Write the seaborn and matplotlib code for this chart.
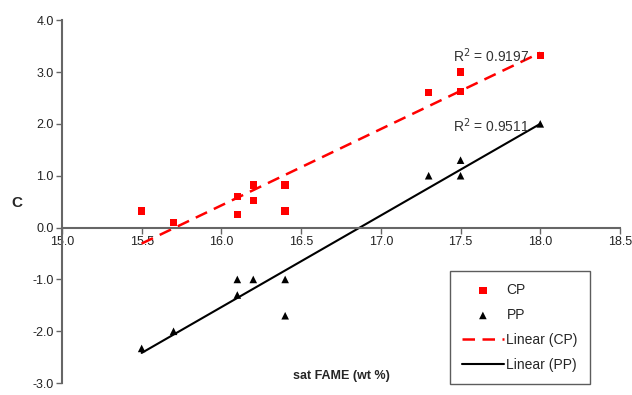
import matplotlib
matplotlib.use("Agg")
import matplotlib.pyplot as plt
import seaborn as sns
import numpy as np
import pandas as pd

# values
cp_x = [15.5, 15.7, 16.1, 16.1, 16.2, 16.2, 16.4, 16.4, 17.3, 17.5, 17.5, 18.0]
cp_y = [0.32, 0.10, 0.60, 0.25, 0.82, 0.52, 0.82, 0.32, 2.60, 3.00, 2.62, 3.32]
pp_x = [15.5, 15.7, 16.1, 16.1, 16.2, 16.4, 16.4, 17.3, 17.5, 17.5, 18.0]
pp_y = [-2.33, -2.00, -1.00, -1.30, -1.00, -1.00, -1.70, 1.00, 1.30, 1.00, 2.00]
r2_labels = ["R$^2$ = 0.9197", "R$^2$ = 0.9511"]
x_ticks = [15.0, 15.5, 16.0, 16.5, 17.0, 17.5, 18.0, 18.5]
y_ticks = [-3.0, -2.0, -1.0, 0.0, 1.0, 2.0, 3.0, 4.0]

cp = pd.DataFrame({"x": cp_x, "y": cp_y})
pp = pd.DataFrame({"x": pp_x, "y": pp_y})

sns.set_style("white")
plt.rcParams["font.family"] = ["Liberation Sans", "DejaVu Sans"]

fig = plt.figure(figsize=(6.32, 3.95), dpi=100)
ax = fig.add_axes([0.098, 0.030, 0.883, 0.919])

sns.scatterplot(data=cp, x="x", y="y", marker="s", color="red", s=28,
                edgecolor="none", label="CP", ax=ax, zorder=3)
sns.scatterplot(data=pp, x="x", y="y", marker="^", color="black", s=30,
                edgecolor="none", label="PP", ax=ax, zorder=3)
sns.regplot(data=cp, x="x", y="y", scatter=False, ci=None, ax=ax,
            label="Linear (CP)",
            line_kws=dict(color="red", lw=1.8, ls=(0, (5, 3))))
sns.regplot(data=pp, x="x", y="y", scatter=False, ci=None, ax=ax,
            label="Linear (PP)",
            line_kws=dict(color="black", lw=1.5))

ax.text(17.45, 3.19, r2_labels[0], fontsize=10, color="#333333")
ax.text(17.45, 1.85, r2_labels[1], fontsize=10, color="#333333")

ax.set_xlim(15.0, 18.5)
ax.set_ylim(-3.0, 4.0)
ax.set_xticks(x_ticks)
ax.set_yticks(y_ticks)
ax.set_xticklabels([f"{t:.1f}" for t in x_ticks])
ax.set_yticklabels([f"{t:.1f}" for t in y_ticks])

for s in ["top", "right"]:
    ax.spines[s].set_visible(False)
ax.spines["bottom"].set_position(("data", 0))
for s in ["left", "bottom"]:
    ax.spines[s].set_color("#666666")
    ax.spines[s].set_linewidth(1.5)
ax.tick_params(axis="both", direction="out", length=4, width=1,
               color="#666666", labelsize=9, labelcolor="#222222", pad=2)
ax.tick_params(axis="both", which="both", left=True, bottom=True)

ax.set_xlabel("")
ax.set_ylabel("")
fig.text(17 / 632, 1 - 203 / 395, "C", fontsize=11, fontweight="bold",
         ha="center", va="center")
fig.text(341 / 632, 1 - 376 / 395, "sat FAME (wt %)", fontsize=9,
         fontweight="bold", ha="center", va="center")

leg = ax.legend(loc="lower right", bbox_to_anchor=(0.944, 0.01),
                bbox_transform=fig.transFigure, frameon=True,
                fancybox=False, edgecolor="#333333", fontsize=10,
                handlelength=3.0, labelspacing=0.8, borderpad=0.85,
                handletextpad=0.2)
leg.get_frame().set_linewidth(1.0)

fig.savefig("out.png", dpi=100)
